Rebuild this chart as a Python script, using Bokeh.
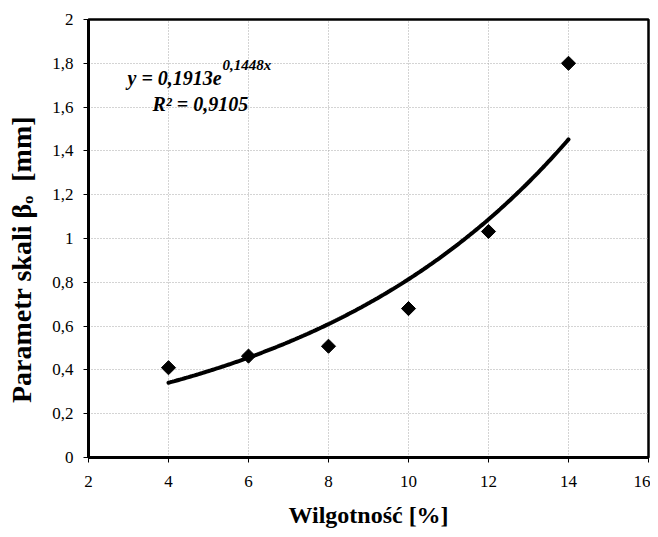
import numpy as np
from bokeh.plotting import figure
from bokeh.models import Label, FixedTicker, CustomJSTickFormatter, Range1d
from bokeh.embed import file_html
from bokeh.resources import INLINE

# ---- data ----
moisture = [4, 6, 8, 10, 12, 14]
beta_o = [0.41, 0.463, 0.508, 0.68, 1.032, 1.80]

# trend line coefficients as printed on the chart: y = A * exp(B x)
trend_A = 0.1913
trend_B = 0.1448
trend_x_from = 4
trend_x_to = 14

x_ticks = [2, 4, 6, 8, 10, 12, 14, 16]
x_tick_labels = ["2", "4", "6", "8", "10", "12", "14", "16"]
y_ticks = [0, 0.2, 0.4, 0.6, 0.8, 1.0, 1.2, 1.4, 1.6, 1.8, 2.0]
y_tick_labels = ["0", "0,2", "0,4", "0,6", "0,8", "1", "1,2", "1,4", "1,6", "1,8", "2"]

eq_main = "y = 0,1913e"
eq_exp = "0,1448x"
r2_text = "R² = 0,9105"
x_title = "Wilgotność [%]"
y_title = "Parametr skali βₒ \u00a0[mm]" + "\u00a0" * 6

SERIF = "Liberation Serif, serif"

p = figure(width=650, height=537, output_backend="svg", toolbar_location=None,
           x_range=Range1d(2, 16), y_range=Range1d(0, 2),
           min_border_left=88, min_border_right=2, min_border_top=19, min_border_bottom=80)
p.background_fill_color = "white"
p.border_fill_color = "white"
p.outline_line_color = "black"
p.outline_line_width = 2.5

# grid
for g in (p.xgrid, p.ygrid):
    g.grid_line_color = "#a8a8a8"
    g.grid_line_dash = "1 2"
    g.grid_line_width = 1
p.xgrid.ticker = FixedTicker(ticks=x_ticks)
p.ygrid.ticker = FixedTicker(ticks=y_ticks)

# axes
fmt_code = """
let best = 0; let d = 1e9;
for (let i = 0; i < vals.length; i++) {
  const dd = Math.abs(vals[i] - tick);
  if (dd < d) { d = dd; best = i; }
}
return labs[best];
"""
p.xaxis.ticker = FixedTicker(ticks=x_ticks)
p.yaxis.ticker = FixedTicker(ticks=y_ticks)
p.xaxis.formatter = CustomJSTickFormatter(args=dict(vals=x_ticks, labs=x_tick_labels), code=fmt_code)
p.yaxis.formatter = CustomJSTickFormatter(args=dict(vals=y_ticks, labs=y_tick_labels), code=fmt_code)
for ax in (p.xaxis, p.yaxis):
    ax.axis_line_color = "black"
    ax.axis_line_width = 3
    ax.major_tick_line_color = "black"
    ax.major_tick_line_width = 1
    ax.major_tick_out = 5
    ax.major_tick_in = 0
    ax.minor_tick_line_color = None
    ax.major_label_text_font = SERIF
    ax.major_label_text_font_size = "17px"
    ax.major_label_text_color = "black"
    ax.axis_label_text_font = SERIF
    ax.axis_label_text_font_style = "bold"
    ax.axis_label_text_color = "black"
p.xaxis.major_label_standoff = 13
p.yaxis.major_label_standoff = 10
p.xaxis.axis_label = x_title
p.xaxis.axis_label_text_font_size = "24px"
p.xaxis.axis_label_standoff = 12
p.yaxis.axis_label = y_title
p.yaxis.axis_label_text_font_size = "28px"
p.yaxis.axis_label_standoff = 12

# trend line
tx = np.linspace(trend_x_from, trend_x_to, 200)
ty = trend_A * np.exp(trend_B * tx)
p.line(tx, ty, line_color="black", line_width=4, line_cap="round")

# points (diamonds)
p.scatter(moisture, beta_o, marker="square", angle=np.pi / 4, size=10,
          fill_color="black", line_color="black")

# equation
def lab(text, x, y, size, style="bold italic"):
    p.add_layout(Label(x=x, y=y, text=text,
                       text_font=SERIF, text_font_size=size, text_font_style=style,
                       text_color="black", text_align="left", text_baseline="alphabetic"))

lab(eq_main, 2.975, 1.735, "20px")
lab(eq_exp, 5.35, 1.79, "15px")
lab(r2_text, 3.6, 1.616, "20px")

open("out.html", "w").write(file_html(p, INLINE))
